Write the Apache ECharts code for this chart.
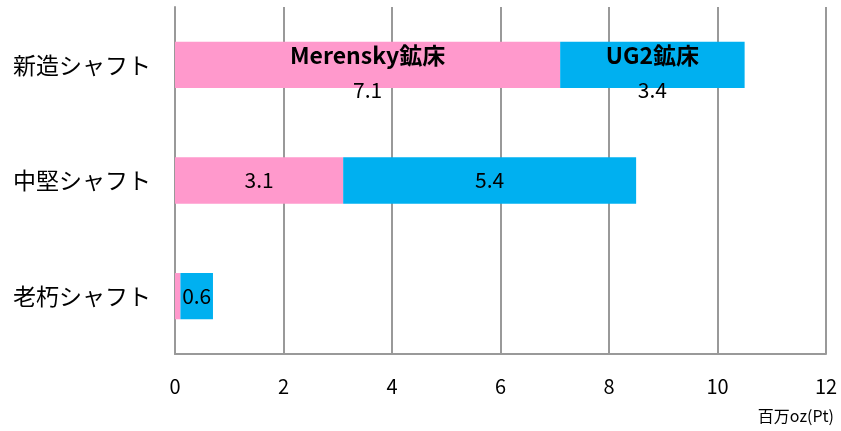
<!DOCTYPE html>
<html>
<head>
<meta charset="utf-8">
<script src="https://cdn.jsdelivr.net/npm/echarts@6/dist/echarts.min.js"></script>
<style>
  html, body { margin: 0; padding: 0; background: #fff; }
  #main { width: 841px; height: 431px; }
</style>
</head>
<body>
<div id="main"></div>
<script>
// categories (top to bottom)
const shafts = ['新造シャフト', '中堅シャフト', '老朽シャフト']
// 百万oz(Pt)
const merensky = [7.1, 3.1, 0.1]
const ug2 = [3.4, 5.4, 0.6]
const xTicks = [0, 2, 4, 6, 8, 10, 12]

const FONT = '"Noto Sans CJK JP", "Noto Sans", sans-serif'

let chart = echarts.init(document.getElementById('main'))

// 一番上のバーだけ鉱床名を入れる
const mkData = (values, name) => values.map((v, i) => {
  if (i === 0) {
    return {
      value: v,
      label: {
        offset: [0, 5],
        formatter: '{b|' + name + '}\n{v|' + v + '}',
        rich: {
          b: { fontSize: 23, fontWeight: 'bold', fontFamily: FONT, color: '#000', lineHeight: 40 },
          v: { fontSize: 21, fontFamily: FONT, color: '#000', lineHeight: 30 }
        }
      }
    }
  }
  if (v < 0.3) return { value: v, label: { show: false } }
  return v
})

const baseLabel = {
  show: true,
  position: 'inside',
  fontSize: 21,
  fontFamily: FONT,
  color: '#000'
}

let option = {
  animation: false,
  textStyle: { fontFamily: FONT },
  title: {
    text: '百万oz(Pt)',
    right: 2,
    bottom: 2,
    textStyle: { fontSize: 16, fontWeight: 'normal', color: '#000', fontFamily: FONT }
  },
  grid: { left: 175, right: 15, top: 7, bottom: 77 },
  xAxis: {
    type: 'value',
    min: xTicks[0],
    max: xTicks[xTicks.length - 1],
    interval: 2,
    axisLine: { show: true, lineStyle: { color: '#999', width: 2 } },
    axisTick: { show: false },
    axisLabel: { fontSize: 20, color: '#000', margin: 22, fontFamily: FONT },
    splitLine: { show: true, lineStyle: { color: '#999', width: 2 } }
  },
  yAxis: {
    type: 'category',
    data: shafts,
    inverse: true,
    axisLine: { show: true, lineStyle: { color: '#999', width: 2 } },
    axisTick: { show: false },
    axisLabel: { fontSize: 23, color: '#000', margin: 24, fontFamily: FONT }
  },
  series: [
    {
      name: 'Merensky鉱床',
      type: 'bar',
      stack: 'ore',
      data: mkData(merensky, 'Merensky鉱床'),
      barWidth: '40%',
      itemStyle: { color: '#FF99CC' },
      label: baseLabel
    },
    {
      name: 'UG2鉱床',
      type: 'bar',
      stack: 'ore',
      data: mkData(ug2, 'UG2鉱床'),
      barWidth: '40%',
      itemStyle: { color: '#00B0F0' },
      label: baseLabel
    }
  ]
}
chart.setOption(option)
</script>
</body>
</html>
